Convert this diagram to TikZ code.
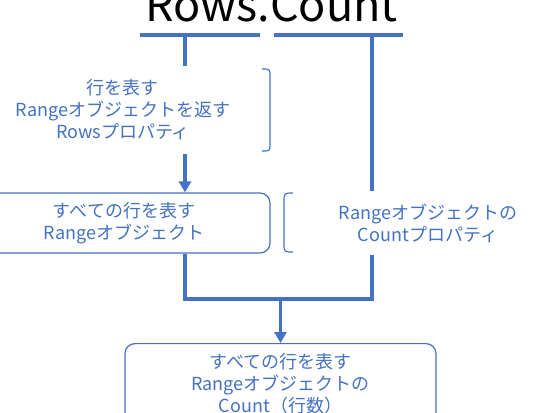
\documentclass[tikz,border=0pt]{standalone}
\usepackage{fontspec}
\setmainfont{Noto Sans CJK JP}
\usetikzlibrary{arrows.meta,backgrounds}
\definecolor{accent}{HTML}{4472C4}
\begin{document}
\begin{tikzpicture}[x=1pt,y=-1pt,
  conn/.style={draw=accent,line width=3.5pt},
  flow/.style={conn,-{Triangle[width=12pt,length=11pt]}},
  lbl/.style={text=accent,font=\fontsize{18}{22}\selectfont,align=center,inner sep=0pt},
  frame/.style={draw=accent,line width=1.2pt},
  cover/.style={fill=white},
  boxed/.style={lbl,fill=white,draw=accent,line width=1.2pt,rounded corners=10pt},
]
\useasboundingbox (0,0) rectangle (558,413);
% title
\node[anchor=base,inner sep=0pt,font=\fontsize{45}{45}\selectfont] (title) at (271.5,21) {Rows.Count};
% brackets under the title
\coordinate (lbA) at (140,35);
\coordinate (lbB) at (260,35);
\coordinate (rbA) at (274,35);
\coordinate (rbB) at (403,35);
\coordinate (lb) at (185,35);
\coordinate (rb) at (372,35);
\draw[conn] (lbA) -- (lbB);
\draw[conn] (rbA) -- (rbB);
% Rows property
\node[lbl,cover,minimum width=296pt,minimum height=88pt] (rows) at (123,110) {行を表す\\Rangeオブジェクトを返す\\Rowsプロパティ};
\draw[frame] (262,69) .. controls (270,69) .. (270,77) -- (270,143) .. controls (270,151) .. (262,151);
% all rows range
\node[boxed,minimum width=292pt,minimum height=60pt] (all) at (124,223) {すべての行を表す\\Rangeオブジェクト};
% count property
\node[lbl,cover,minimum width=290pt,minimum height=64pt] (prop) at (428,223) {Rangeオブジェクトの\\Countプロパティ};
\draw[frame] (293,193) .. controls (284,193) .. (284,202) -- (284,243) .. controls (284,252) .. (293,252);
% result
\node[boxed,anchor=north,minimum width=311pt,inner ysep=10pt] (res) at (280.5,343) {すべての行を表す\\Rangeオブジェクトの\\Count（行数）};
\coordinate (j) at (280.5,299);
\begin{scope}[on background layer]
\draw[flow] (lb) -- (lb |- all.north);
\draw[conn] (lb |- all.south) |- (rb |- j) -- (rb);
\draw[flow] (j) -- (res.north);
\end{scope}
\end{tikzpicture}
\end{document}
